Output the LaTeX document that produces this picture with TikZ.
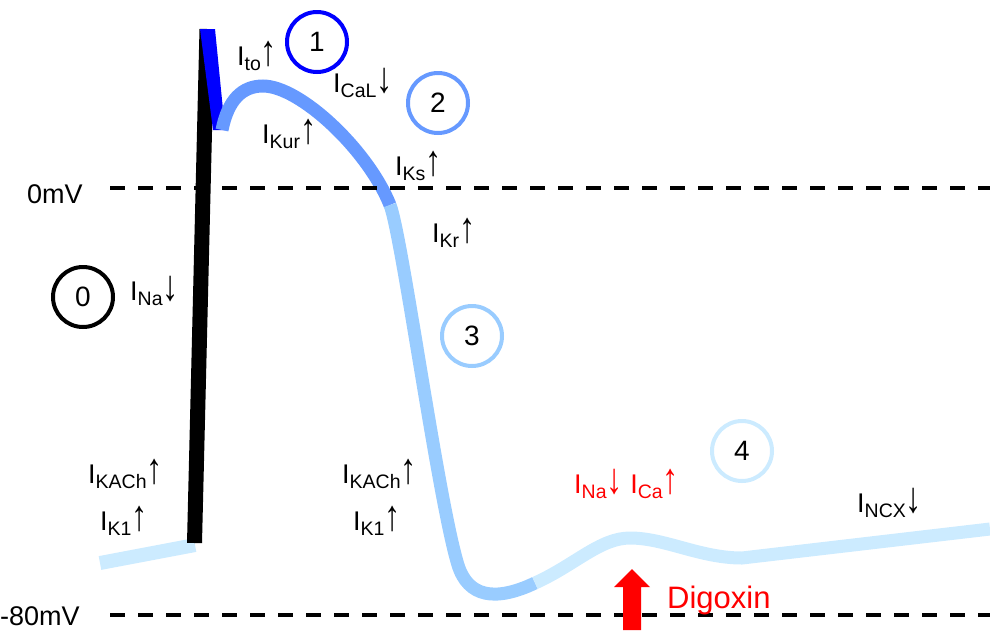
\documentclass[tikz,border=0pt]{standalone}
\usepackage{fontspec}
\setmainfont{Liberation Sans}
\usetikzlibrary{calc}
\definecolor{apblue}{HTML}{0000FF}
\definecolor{apmid}{HTML}{6699FF}
\definecolor{aplight}{HTML}{99CCFF}
\definecolor{appale}{HTML}{CCEBFF}
\definecolor{apred}{HTML}{FF0000}
\newcommand{\curr}[2]{I\raisebox{-0.2em}{\fontsize{19.5}{19.5}\selectfont #1}\scalebox{1.2}[1.6]{#2}}

\begin{document}
\begin{tikzpicture}[x=1pt,y=-1pt,
  phase/.style={line width=13pt},
  level/.style={line width=4pt, dash pattern=on 15pt off 13pt},
  ring/.style={circle, draw, line width=4pt, minimum size=60pt, inner sep=0pt,
               font=\fontsize{28}{28}\selectfont},
  lbl/.style={anchor=base west, inner sep=0pt, font=\fontsize{27}{27}\selectfont}]
  \useasboundingbox (0,0) rectangle (990,630);
  \coordinate (top0) at (110,188);  \coordinate (end0) at (990,188);
  \coordinate (top80) at (110,615); \coordinate (end80) at (990,615);

  \draw[appale, line width=14pt] (100,563) -- (195,545);
  \draw[line width=15pt] (194.5,543) -- (207,29);
  \fill[apblue] (200,29) -- (215,29) -- (225,130) -- (213,130) -- cycle;
  \draw[apmid, phase] (222,130) .. controls (228,100) and (242,86) .. (263,86)
    .. controls (300,86) and (368,150) .. (390,205);
  \draw[aplight, phase] (390,205) .. controls (402,235) and (438,500) .. (458,565)
    .. controls (468,597) and (495,602) .. (535,583);
  \draw[appale, phase] (535,583) .. controls (575,565) and (600,538) .. (630,538)
    .. controls (665,538) and (700,558) .. (742,558) -- (990,529);

  \draw[level] (top0) -- (end0);
  \draw[level] (top80) -- (end80);
  \node[lbl] (mv0) at (27,203) {0mV};
  \node[lbl] (mv80) at (0,625) {-80mV};

  \node[ring, draw=black] (r0) at (83,297) {0};
  \node[ring, draw=apblue] (r1) at (317,42) {1};
  \node[ring, draw=apmid] (r2) at (438,103) {2};
  \node[ring, draw=aplight] (r3) at (472,336) {3};
  \node[ring, draw=appale] (r4) at (742,451) {4};

  \node[lbl] (ito) at (237,65) {\curr{to}{↑}};
  \node[lbl] (ical) at (333,92) {\curr{CaL}{↓}};
  \node[lbl] (ikur) at (262,143) {\curr{Kur}{↑}};
  \node[lbl] (iks) at (395,175) {\curr{Ks}{↑}};
  \node[lbl] (ikr) at (432,242) {\curr{Kr}{↑}};
  \node[lbl] (ina) at (130,300) {\curr{Na}{↓}};
  \node[lbl] (ikach) at (88,483) {\curr{KACh}{↑}};
  \node[lbl] (ikone) at (100,530) {\curr{K1}{↑}};
  \node[lbl] (ikachb) at (342,483) {\curr{KACh}{↑}};
  \node[lbl] (ikoneb) at (353,530) {\curr{K1}{↑}};
  \node[lbl, apred] (inaca) at (574,493) {\curr{Na}{↓} \curr{Ca}{↑}};
  \node[lbl] (incx) at (857,512) {\curr{NCX}{↓}};

  \fill[apred] (632,569) -- (650,587) -- (641,587) -- (641,630) -- (623,630)
    -- (623,587) -- (614,587) -- cycle;
  \node[lbl, apred, font=\fontsize{31}{31}\selectfont] (dig) at (667,608) {Digoxin};
\end{tikzpicture}
\end{document}
